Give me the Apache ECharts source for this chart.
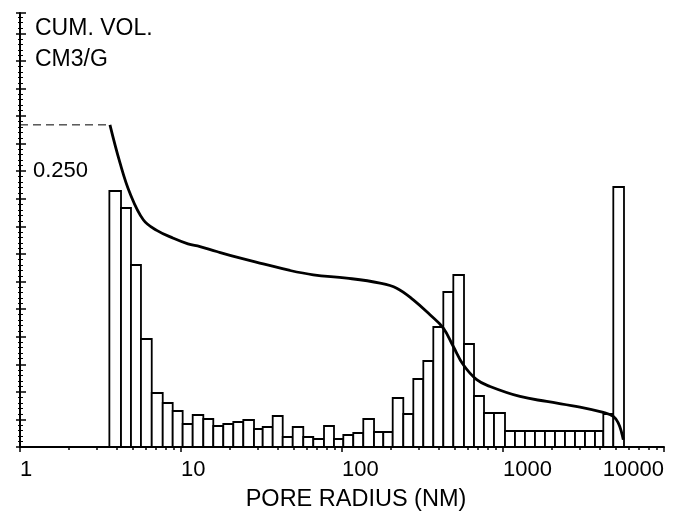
<!DOCTYPE html>
<html>
<head>
<meta charset="utf-8">
<script src="https://cdn.jsdelivr.net/npm/echarts@6/dist/echarts.min.js"></script>
<style>
  html, body { margin: 0; padding: 0; background: #fff; }
  #chart { width: 676px; height: 520px; }
</style>
</head>
<body>
<div id="chart"></div>
<script>
// 孔径分布: 柱边界 (nm) 和相对高度
var binEdges = [3.59, 4.24, 4.89, 5.64, 6.58, 7.70, 8.88, 10.24, 11.82, 13.76, 15.87, 18.31, 21.13, 24.38, 28.41, 32.17, 37.12, 42.83, 49.42, 57.48, 66.32, 77.31, 89.19, 101.9, 117.5, 135.6, 158.1, 180.5, 206.5, 240.3, 277.3, 319.9, 369.1, 425.9, 491.4, 572.5, 660.6, 762.1, 879.4, 1029, 1187, 1369, 1580, 1823, 2104, 2427, 2801, 3231, 3728, 4198, 4843, 5643]
var binHeights = [256, 239, 182, 108, 54, 44, 36, 23, 32, 28, 21, 23, 25, 27, 18, 20, 31, 10, 20, 10, 8, 21, 8, 12, 14, 28, 15, 15, 49, 33, 68, 86, 120, 155, 172, 103, 51, 34, 34, 16, 16, 16, 16, 16, 16, 16, 16, 16, 16, 33, 260]

// 累计体积曲线
var curveRadius = [3.62, 4.18, 4.82, 5.83, 7.07, 8.96, 11.05, 13.12, 16.66, 22.18, 32.45, 47.53, 66.32, 106.9, 172.2, 218.7, 277.3, 352, 425.9, 491.4, 566.8, 686.5, 830.7, 1275, 1868, 3008, 4198, 4843, 5203, 5462, 5588]
var cumVolume = [0.292, 0.2575, 0.230, 0.206, 0.1964, 0.1893, 0.1842, 0.1817, 0.1772, 0.1721, 0.166, 0.160, 0.1561, 0.1531, 0.1486, 0.144, 0.1334, 0.1198, 0.1078, 0.0911, 0.0745, 0.061, 0.0549, 0.0458, 0.0413, 0.0362, 0.0313, 0.0277, 0.0217, 0.0127, 0.0066]

var majorTicks = [1, 10, 100, 1000, 10000]
var minorTicks = [2, 3, 4, 5, 6, 7, 8, 9, 20, 30, 40, 50, 60, 70, 80, 90, 200, 300, 400, 500, 600, 700, 800, 900, 2000, 3000, 4000, 5000, 6000, 7000, 8000, 9000]
var xLabelsLeft = [1, 10, 100, 1000]
var xLabelsRight = [10000]
var yLabelShown = 0.25

var font = "'Liberation Sans', Arial, sans-serif"

var bars = []
for (var i = 0; i < binHeights.length; i++) {
  bars.push([binEdges[i], binEdges[i + 1], binHeights[i]])
}
var curve = curveRadius.map(function (r, i) { return [r, cumVolume[i]] })
var maxLine = [[1, cumVolume[0]], [curveRadius[0], cumVolume[0]]]

var chart = echarts.init(document.getElementById('chart'), null, { renderer: 'canvas' })

var yScale = { min: 0, max: 0.3934, interval: 0.025 }
var hiddenLine = { show: true, lineStyle: { color: 'rgba(0,0,0,0)', width: 0 } }

chart.setOption({
  animation: false,
  backgroundColor: '#fff',
  title: {
    text: 'CUM. VOL.\nCM3/G',
    left: 30,
    top: 8,
    textStyle: {
      fontFamily: font,
      fontSize: 23,
      fontWeight: 'normal',
      color: '#000',
      lineHeight: 31
    }
  },
  grid: {
    left: 20,
    right: 12,
    top: 13,
    bottom: 73,
    outerBoundsMode: 'none'
  },
  xAxis: [{
    type: 'log',
    logBase: 10,
    min: 1,
    max: 10000,
    name: 'PORE RADIUS (NM)',
    nameLocation: 'middle',
    nameGap: 41,
    nameTextStyle: {
      fontFamily: font,
      fontSize: 23.5,
      color: '#000',
      padding: [0, 0, 0, 28]
    },
    axisLine: { lineStyle: { color: '#000', width: 2 } },
    axisTick: { customValues: majorTicks, length: 5, lineStyle: { color: '#000', width: 1.5 } },
    axisLabel: {
      customValues: xLabelsLeft,
      align: 'left',
      margin: 12,
      fontFamily: font,
      fontSize: 22,
      color: '#000',
      formatter: function (v) { return String(v) }
    },
    splitLine: { show: false }
  }, {
    type: 'log',
    logBase: 10,
    min: 1,
    max: 10000,
    position: 'bottom',
    axisLine: hiddenLine,
    axisTick: { show: true, customValues: minorTicks, length: 3, lineStyle: { color: '#000', width: 1.5 } },
    axisLabel: {
      customValues: xLabelsRight,
      align: 'right',
      margin: 12,
      fontFamily: font,
      fontSize: 22,
      color: '#000',
      formatter: function (v) { return String(v) }
    },
    splitLine: { show: false }
  }],
  yAxis: [{
    type: 'value',
    min: yScale.min,
    max: yScale.max,
    interval: yScale.interval,
    axisLine: { show: true, lineStyle: { color: '#000', width: 2 } },
    axisTick: { show: true, length: 4, lineStyle: { color: '#000', width: 1.5 } },
    minorTick: { show: true, splitNumber: 5, length: 2, lineStyle: { color: '#000', width: 1 } },
    axisLabel: {
      inside: true,
      margin: 13,
      fontFamily: font,
      fontSize: 22,
      color: '#000',
      formatter: function (value) {
        return Math.abs(value - yLabelShown) < 1e-6 ? value.toFixed(3) : ''
      }
    },
    splitLine: { show: false }
  }, {
    // 同一刻度, 刻度线朝内, 与左侧刻度一起形成穿过轴线的效果
    type: 'value',
    min: yScale.min,
    max: yScale.max,
    interval: yScale.interval,
    position: 'left',
    offset: 0,
    axisLine: hiddenLine,
    axisTick: { show: true, inside: true, length: 6, lineStyle: { color: '#000', width: 1.5 } },
    minorTick: { show: true, splitNumber: 5, length: 3, lineStyle: { color: '#000', width: 1 } },
    axisLabel: { show: false },
    splitLine: { show: false }
  }, {
    type: 'value',
    show: false,
    min: 0,
    max: 434
  }],
  series: [{
    type: 'custom',
    xAxisIndex: 0,
    yAxisIndex: 2,
    encode: { x: [0, 1], y: 2 },
    renderItem: function (params, api) {
      var p0 = api.coord([api.value(0), api.value(2)])
      var p1 = api.coord([api.value(1), 0])
      return {
        type: 'rect',
        shape: { x: p0[0], y: p0[1], width: p1[0] - p0[0], height: p1[1] - p0[1] },
        style: { fill: '#fff', stroke: '#000', lineWidth: 1.8 }
      }
    },
    data: bars,
    z: 2
  }, {
    type: 'line',
    xAxisIndex: 0,
    yAxisIndex: 0,
    data: maxLine,
    showSymbol: false,
    lineStyle: { color: '#000', width: 1, type: [8, 5] },
    z: 3
  }, {
    type: 'line',
    xAxisIndex: 0,
    yAxisIndex: 0,
    data: curve,
    smooth: 0.4,
    showSymbol: false,
    lineStyle: { color: '#000', width: 2.8 },
    z: 4
  }]
})
</script>
</body>
</html>
